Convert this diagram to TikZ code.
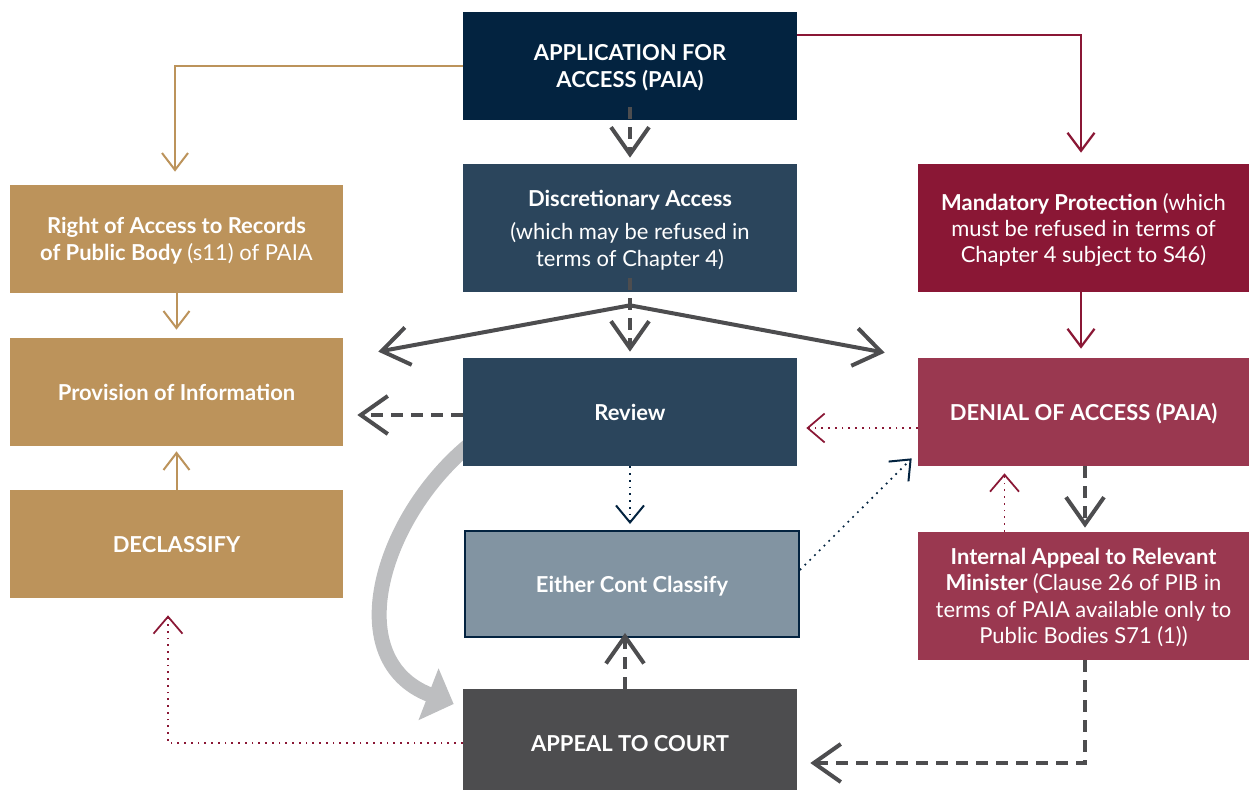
\documentclass[tikz,border=0pt]{standalone}
\usepackage{fontspec}
\setmainfont{Lato}
\usetikzlibrary{arrows.meta,backgrounds}

\newcommand{\boxfont}{\fontsize{12.5}{15}\selectfont\bfseries}
\newcommand{\softtext}[1]{{\mdseries\color{white!90}#1}}

\begin{document}
\begin{tikzpicture}[
        x=0.02cm, y=-0.02cm,
    ]

    \tikzstyle{box} = [rectangle, minimum width=6.68cm, minimum height=2.16cm,
                       inner sep=0pt, align=center, text=white, font=\boxfont,
                       text depth=-0.05cm];
    \tikzstyle{tallbox} = [box, minimum height=2.56cm];
    \tikzstyle{goldline} = [draw=paiagold, line width=0.04cm,
                            -{Straight Barb[length=0.34cm, width=0.52cm]}];
    \tikzstyle{redline} = [draw=paiared, line width=0.045cm,
                           -{Straight Barb[length=0.36cm, width=0.54cm]}];
    \tikzstyle{grayline} = [draw=paiagray, line width=0.08cm,
                            -{Straight Barb[length=0.54cm, width=0.76cm]}];
    \tikzstyle{graydash} = [dash pattern=on 0.24cm off 0.16cm];
    \tikzstyle{reddot} = [draw=paiared, line width=0.035cm, dash pattern=on 0.035cm off 0.1cm,
                          -{Straight Barb[length=0.34cm, width=0.58cm, line width=0.035cm]}];
    \tikzstyle{navydot} = [draw=paianavy, line width=0.035cm, dash pattern=on 0.035cm off 0.1cm,
                           -{Straight Barb[length=0.34cm, width=0.56cm, line width=0.04cm]}];
    \tikzstyle{band} = [draw=paiaband, line width=0.3cm,
                        -{Triangle[length=0.54cm, width=1.08cm]}];

    \definecolor{paianavy}{RGB}{3,35,64}
    \definecolor{paiaslate}{RGB}{43,69,92}
    \definecolor{paiasteel}{RGB}{130,148,162}
    \definecolor{paiagray}{RGB}{77,77,79}
    \definecolor{paiagold}{RGB}{188,147,91}
    \definecolor{paiared}{RGB}{138,23,53}
    \definecolor{paiarose}{RGB}{154,56,80}
    \definecolor{paiaband}{RGB}{189,190,192}

    \useasboundingbox (0,0) rectangle (1250,790);

    % Nodes
    \node[box, fill=paianavy] (app) at (630,66) {APPLICATION FOR\\ACCESS (PAIA)};
    \node[tallbox, fill=paiaslate] (disc) at (630,228)
        {Discretionary Access\\[0.14cm]\softtext{(which may be refused in}\\\softtext{terms of Chapter 4)}};
    \node[box, fill=paiaslate] (review) at (630,412) {Review};
    \node[box, fill=paiasteel, draw=paianavy, line width=0.04cm, minimum height=2.12cm] (either) at (632,584)
        {Either Cont Classify};
    \node[box, fill=paiagray] (court) at (630,743) {APPEAL TO COURT};

    \node[box, fill=paiagold, minimum width=6.66cm] (right) at (176.5,239)
        {Right of Access to Records\\of Public Body \softtext{(s11) of PAIA}};
    \node[box, fill=paiagold, minimum width=6.66cm] (provision) at (176.5,392) {Provision of Information};
    \node[box, fill=paiagold, minimum width=6.66cm] (declassify) at (176.5,544) {DECLASSIFY};

    \node[tallbox, fill=paiared, minimum width=6.62cm] (mandatory) at (1083.5,228)
        {Mandatory Protection \softtext{(which}\\\softtext{must be refused in terms of}\\\softtext{Chapter 4 subject to S46)}};
    \node[box, fill=paiarose, minimum width=6.62cm] (denial) at (1083.5,412) {DENIAL OF ACCESS (PAIA)};
    \node[tallbox, fill=paiarose, minimum width=6.62cm] (internal) at (1083.5,596)
        {Internal Appeal to Relevant\\Minister \softtext{(Clause 26 of PIB in}\\\softtext{terms of PAIA available only to}\\\softtext{Public Bodies S71 (1))}};

    % Helper points
    \coordinate (fork) at ([shift={(0,13)}]disc.south);
    \coordinate (revw) at ([shift={(0,3)}]review.west);
    \coordinate (denw) at ([shift={(0,16)}]denial.west);
    \coordinate (courtn) at ([shift={(-5,0)}]court.north);

    % Arrows
    \draw[goldline] (app.west) -| ([shift={(-1.5,-13)}]right.north);
    \draw[redline] ([shift={(0,-31)}]app.east) -| ([shift={(-2.5,-11)}]mandatory.north);
    \draw[grayline, graydash] ([shift={(0,-13)}]app.south) -- ([shift={(0,-6)}]disc.north);

    \draw[grayline, graydash] ([shift={(0,-14)}]disc.south) -- ([shift={(0,-6)}]review.north);
    \draw[grayline] (fork) -- ([shift={(35,14)}]provision.north east);
    \draw[grayline] (fork) -- ([shift={(-33,-5)}]denial.north west);

    \draw[goldline, shorten >=0.16cm] (right.south) -- (provision.north);
    \draw[goldline, shorten >=0.1cm] (declassify.north) -- (provision.south);
    \draw[redline, shorten >=0.18cm] ([shift={(-2.5,0)}]mandatory.south) -- ([shift={(-2.5,0)}]denial.north);

    \draw[grayline, graydash, shorten >=0.28cm] (revw) -- (revw -| provision.east);
    \draw[reddot, shorten >=0.18cm] (denw) -- (denw -| review.east);
    \draw[navydot, shorten >=0.12cm] (review.south) -- (review.south |- either.north);
    \draw[navydot] ([shift={(0,-14)}]either.east) -- ([shift={(-6,-8)}]denial.south west);
    \draw[grayline, graydash, shorten >=-0.1cm] (courtn) -- (courtn |- either.south);
    \draw[reddot] (court.west) -| ([shift={(-8.5,17)}]declassify.south);

    \draw[grayline, graydash, shorten >=0.08cm] ([shift={(1.5,0)}]denial.south) -- ([shift={(1.5,0)}]internal.north);
    \draw[reddot] ([shift={(-79,0)}]internal.north) -- ([shift={(-79,7)}]denial.south);
    \draw[grayline, graydash] ([shift={(1.5,0)}]internal.south) |- ([shift={(13,20)}]court.east);

    % Curved return arrow
    \begin{scope}[on background layer]
        \draw[band] ([shift={(5,-20)}]review.south west) .. controls (380,520) and (340,660)
            .. ([shift={(-9,-39)}]court.west);
    \end{scope}

\end{tikzpicture}
\end{document}
